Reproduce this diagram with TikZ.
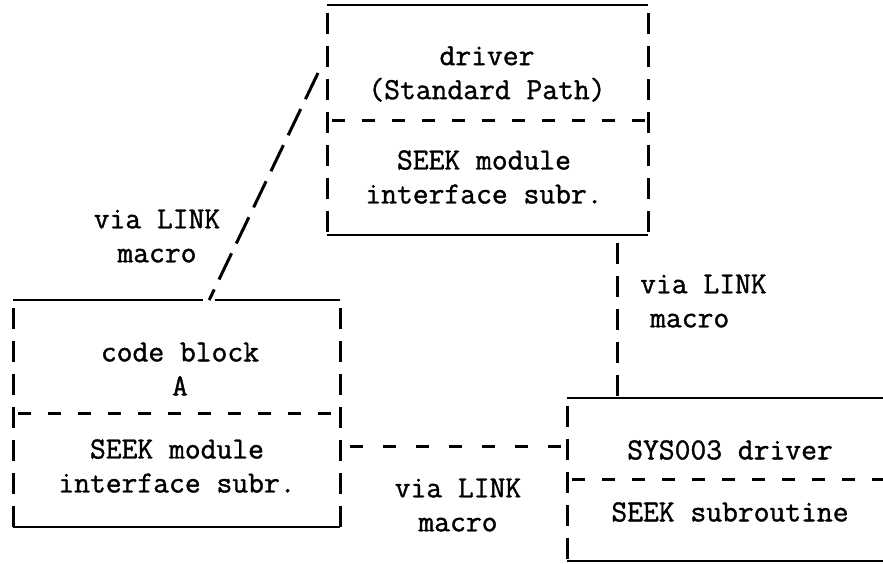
\documentclass[tikz,border=0pt]{standalone}
\usepackage{fontspec}
\usepackage{tikz}
\usetikzlibrary{calc}

\newfontfamily\typewr{Latin Modern Mono}[FakeBold=1.2]

\tikzset{
  rule/.style={line width=2.8pt},
  bars/.style={line width=3pt, dash pattern=on 21pt off 12pt, dash phase=25pt},
  divider/.style={line width=3pt, dash pattern=on 13pt off 17pt, dash phase=25pt},
  slashes/.style={line width=3pt, dash pattern=on 29pt off 11pt},
  link/.style={line width=3pt, dash pattern=on 13pt off 20pt, dash phase=23pt},
  part/.style={inner sep=0pt, outer sep=0pt},
  txt/.style={font=\typewr\fontsize{30.7}{34}\selectfont, align=center, inner sep=0pt}
}

\begin{document}
\begin{tikzpicture}[x=1pt, y=-1pt]
\useasboundingbox (0,0) rectangle (883,563);

% the three boxes
\node[part, minimum width=321pt, minimum height=230pt] (drv) at (487.5,120) {};
\node[part, minimum width=327pt, minimum height=227pt] (codeA) at (176.5,413.5) {};
\node[part, minimum width=316pt, minimum height=163pt] (sys) at (725,479.5) {};

\coordinate (lnkA) at (318,73);
\coordinate (lnkB) at ($(codeA.north west)!0.6!(codeA.north east)$);
\coordinate (vx) at (617,0);
\coordinate (hy) at (0,446);

\draw[rule] (drv.north west) -- (drv.north east) (drv.south west) -- (drv.south east);
\draw[bars] (drv.north west) -- (drv.south west) (drv.north east) -- (drv.south east);
\draw[divider] (drv.west) -- (drv.east);

\draw[rule] (codeA.north west) -- ([xshift=-6pt]lnkB) ([xshift=6pt]lnkB) -- (codeA.north east)
  (codeA.south west) -- (codeA.south east);
\draw[bars] (codeA.north west) -- (codeA.south west) (codeA.north east) -- (codeA.south east);
\draw[divider] (codeA.west) -- (codeA.east);

\draw[rule] (sys.north west) -- (sys.north east) (sys.south west) -- (sys.south east);
\draw[bars] (sys.north west) -- (sys.south west);
\draw[divider] (sys.west) -- (sys.east);

% links between them
\draw[slashes] (lnkA) -- (lnkB);
\draw[bars] (drv.south -| vx) -- (sys.north -| vx);
\draw[link] (codeA.east |- hy) -- (sys.west |- hy);

\node[txt] (drvname) at (487,74) {driver\\(Standard Path)};
\node[txt] (drvseek) at (484,177) {SEEK module\\interface subr.};
\node[txt] (codename) at (180,369) {code block\\A};
\node[txt] (codeseek) at (177,466) {SEEK module\\interface subr.};
\node[txt] (sysname) at (730,450) {SYS003 driver};
\node[txt] (sysseek) at (730,512) {SEEK subroutine};

\node[txt] (lnkdiag) at (157,236) {via LINK\\macro};
\node[txt, align=left, anchor=west] (lnkvert) at (640,301) {via LINK\\\hspace{10pt}macro};
\node[txt] (lnkhoriz) at (458,505) {via LINK\\macro};
\end{tikzpicture}
\end{document}
